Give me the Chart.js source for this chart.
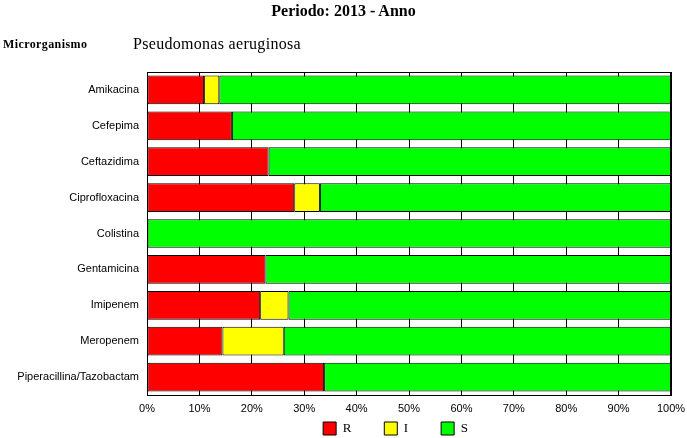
<!DOCTYPE html>
<html>
<head>
<meta charset="utf-8">
<script src="https://cdn.jsdelivr.net/npm/chart.js@4/dist/chart.umd.min.js"></script>
<style>
    html, body { margin: 0; padding: 0; background: #fff; }
    #wrap { position: relative; width: 687px; height: 438px; }
    #chart { position: absolute; left: 0; top: 0; }
    .hdr { position: absolute; font-family: "Liberation Serif", "Times New Roman", serif; color: #000; white-space: nowrap; }
    #title { left: 0; width: 687px; top: 2px; text-align: center; font-size: 16px; font-weight: bold; }
    #org-label { left: 3px; top: 37px; font-size: 12px; font-weight: bold; letter-spacing: 0.4px; }
    #org { left: 133px; top: 35px; font-size: 16px; letter-spacing: 0.3px; }
</style>
</head>
<body>
<div id="wrap">
    <canvas id="chart" width="687" height="438"></canvas>
    <div class="hdr" id="title">Periodo: 2013 - Anno</div>
    <div class="hdr" id="org-label">Microrganismo</div>
    <div class="hdr" id="org">Pseudomonas aeruginosa</div>
</div>
<script>
// antibiotici e percentuali R / I / S
const categories = ['Amikacina', 'Cefepima', 'Ceftazidima', 'Ciprofloxacina', 'Colistina',
    'Gentamicina', 'Imipenem', 'Meropenem', 'Piperacillina/Tazobactam'];
const resistant    = [10.9, 16.2, 23.2, 28.1, 0, 22.6, 21.6, 14.4, 33.8];
const intermediate = [2.9, 0, 0, 4.9, 0, 0, 5.4, 11.7, 0];
const susceptible  = [86.2, 83.8, 76.8, 67.0, 100, 77.4, 73.0, 73.9, 66.2];
const xTicks = [0, 10, 20, 30, 40, 50, 60, 70, 80, 90, 100];

const framePlugin = {
    id: 'frame',
    afterLayout(chart) {
        // sposta la legenda sotto l'asse, come nell'originale
        const lg = chart.legend;
        lg.left += 60;
        lg.right += 60;
        lg.top = 389;
        lg.bottom = 438;
    },
    afterDatasetsDraw(chart) {
        const a = chart.chartArea;
        const ctx = chart.ctx;
        ctx.save();
        ctx.strokeStyle = '#000';
        ctx.lineWidth = 1;
        ctx.strokeRect(Math.round(a.left) + 0.5, Math.round(a.top) + 0.5,
            Math.round(a.right - a.left) - 1, Math.round(a.bottom - a.top));
        ctx.restore();
    }
};

function series(label, data, color) {
    return {
        label: label,
        data: data,
        backgroundColor: color,
        borderColor: '#000',
        borderWidth: 1,
        borderSkipped: false,
        categoryPercentage: 1,
        barPercentage: 0.8
    };
}

new Chart(document.getElementById('chart'), {
    type: 'bar',
    data: {
        labels: categories,
        datasets: [
            series('R', resistant, '#ff0000'),
            series('I', intermediate, '#ffff00'),
            series('S', susceptible, '#00ff00')
        ]
    },
    options: {
        indexAxis: 'y',
        responsive: false,
        animation: false,
        layout: { padding: { top: 72, right: 16, left: 0, bottom: 0 } },
        plugins: {
            title: { display: false },
            tooltip: { enabled: false },
            legend: {
                position: 'bottom',
                maxHeight: 20,
                labels: {
                    boxWidth: 13,
                    boxHeight: 13,
                    padding: 33,
                    color: '#000',
                    font: { family: '"Liberation Serif", serif', size: 13 }
                }
            }
        },
        scales: {
            x: {
                stacked: true,
                min: 0,
                max: 100,
                afterBuildTicks: s => { s.ticks = xTicks.map(v => ({ value: v })); },
                ticks: {
                    callback: v => v + '%',
                    color: '#000',
                    maxRotation: 0,
                    padding: 7,
                    font: { family: '"Liberation Sans", Arial, sans-serif', size: 11 }
                },
                grid: { color: '#000', drawTicks: false },
                border: { color: '#000' },
                afterFit: s => { s.height = 23; s.paddingLeft = 0; s.paddingRight = 0; }
            },
            y: {
                stacked: true,
                ticks: {
                    color: '#000',
                    padding: 8,
                    font: { family: '"Liberation Sans", Arial, sans-serif', size: 11 }
                },
                grid: { display: false, drawTicks: false },
                border: { color: '#000' },
                afterFit: s => { s.width = 147; }
            }
        }
    },
    plugins: [framePlugin]
});
</script>
</body>
</html>
